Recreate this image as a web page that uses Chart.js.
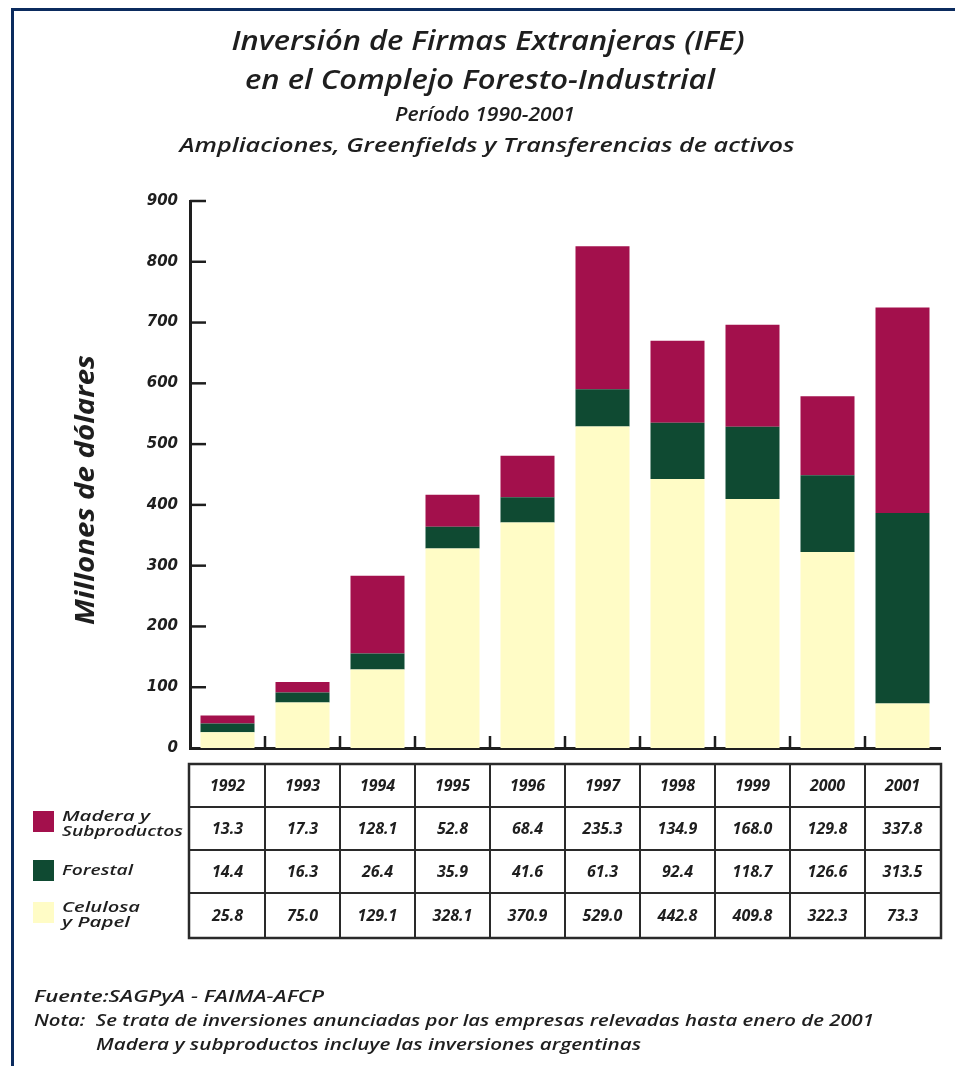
<!DOCTYPE html>
<html>
<head>
<meta charset="utf-8">
<script src="https://cdn.jsdelivr.net/npm/chart.js@4.4.1/dist/chart.umd.min.js"></script>
<style>
  html, body { margin: 0; padding: 0; background: #ffffff; }
  #wrap { position: relative; width: 955px; height: 1066px; }
  canvas { display: block; }
</style>
</head>
<body>
<div id="wrap"><canvas id="c" width="955" height="1066"></canvas></div>
<script>
// ---- Data ----
const years = ['1992','1993','1994','1995','1996','1997','1998','1999','2000','2001'];
const madera = [13.3, 17.3, 128.1, 52.8, 68.4, 235.3, 134.9, 168.0, 129.8, 337.8];
const forestal = [14.4, 16.3, 26.4, 35.9, 41.6, 61.3, 92.4, 118.7, 126.6, 313.5];
const celulosa = [25.8, 75.0, 129.1, 328.1, 370.9, 529.0, 442.8, 409.8, 322.3, 73.3];
const yTicks = [0, 100, 200, 300, 400, 500, 600, 700, 800, 900];
const seriesNames = [['Madera y', 'Subproductos'], ['Forestal'], ['Celulosa', 'y Papel']];
const titleLines = ['Inversión de Firmas Extranjeras (IFE)', 'en el Complejo Foresto-Industrial'];
const subtitleLines = ['Período 1990-2001', 'Ampliaciones, Greenfields y Transferencias de activos'];
const yTitle = 'Millones de dólares';
const notes = ['Fuente:SAGPyA - FAIMA-AFCP', 'Nota:  Se trata de inversiones anunciadas por las empresas relevadas hasta enero de 2001', 'Madera y subproductos incluye las inversiones argentinas'];

const C_MADERA = '#a3104c';
const C_FORESTAL = '#0f4a32';
const C_CELULOSA = '#fffcc6';
const INK = '#1e1e1e';
const FONT = '"Open Sans", Lato, "DejaVu Sans", sans-serif';
const TICKFONT = '"DejaVu Sans", sans-serif';

// draw text horizontally stretched to a given width
function fitText(ctx, text, x, y, width, align) {
  const w = ctx.measureText(text).width;
  const sx = width / w;
  ctx.save();
  const ox = align === 'center' ? x - width / 2 : x;
  ctx.translate(ox, y);
  ctx.scale(sx, 1);
  ctx.textAlign = 'left';
  ctx.fillText(text, 0, 0);
  ctx.restore();
}

const decor = {
  id: 'decor',
  beforeDraw(chart) {
    const ctx = chart.ctx;
    ctx.save();
    ctx.fillStyle = '#ffffff';
    ctx.fillRect(0, 0, chart.width, chart.height);
    ctx.fillStyle = '#0b2b5e';
    ctx.fillRect(11, 8, 955 - 11, 3);
    ctx.fillRect(11, 8, 3, 1066 - 8);
    ctx.restore();
  },
  afterDraw(chart) {
    const ctx = chart.ctx;
    const xs = chart.scales.x, ys = chart.scales.y;
    const area = chart.chartArea;
    ctx.save();
    ctx.fillStyle = INK;
    ctx.textBaseline = 'middle';
    // titles
    ctx.font = 'italic 600 27px ' + FONT;
    fitText(ctx, titleLines[0], 488, 42, 513, 'center');
    fitText(ctx, titleLines[1], 480, 81, 470, 'center');
    ctx.font = 'italic 600 20px ' + FONT;
    fitText(ctx, subtitleLines[0], 485, 115, 180, 'center');
    fitText(ctx, subtitleLines[1], 487, 146, 615, 'center');

    // y axis title
    ctx.save();
    ctx.translate(86, 490);
    ctx.rotate(-Math.PI / 2);
    ctx.font = 'italic bold 27px ' + FONT;
    fitText(ctx, yTitle, 0, 0, 270, 'center');
    ctx.restore();

    // y tick marks (inside)
    ctx.strokeStyle = INK;
    ctx.lineWidth = 2.5;
    yTicks.forEach(v => {
      if (v === 0) return;
      const y = ys.getPixelForValue(v);
      ctx.beginPath();
      ctx.moveTo(area.left, y);
      ctx.lineTo(area.left + 16, y);
      ctx.stroke();
    });
    // x tick marks between categories
    const catW = xs.getPixelForValue(1) - xs.getPixelForValue(0);
    for (let i = 0; i < years.length - 1; i++) {
      const x = xs.getPixelForValue(i) + catW / 2;
      ctx.beginPath();
      ctx.moveTo(x, area.bottom);
      ctx.lineTo(x, area.bottom - 12);
      ctx.stroke();
    }

    // table
    const tTop = 764, rowH = [43, 43, 43, 45];
    const tLeft = xs.getPixelForValue(0) - catW / 2 - 1;
    const tRight = xs.getPixelForValue(years.length - 1) + catW / 2 + 1;
    const rowsY = [tTop];
    rowH.forEach(h => rowsY.push(rowsY[rowsY.length - 1] + h));
    ctx.strokeStyle = '#2a2a2a';
    ctx.lineWidth = 2.5;
    ctx.strokeRect(tLeft, tTop, tRight - tLeft, rowsY[4] - tTop);
    ctx.lineWidth = 2;
    for (let r = 1; r < 4; r++) {
      ctx.beginPath(); ctx.moveTo(tLeft, rowsY[r]); ctx.lineTo(tRight, rowsY[r]); ctx.stroke();
    }
    for (let i = 0; i < years.length - 1; i++) {
      const x = xs.getPixelForValue(i) + catW / 2;
      ctx.beginPath(); ctx.moveTo(x, tTop); ctx.lineTo(x, rowsY[4]); ctx.stroke();
    }
    ctx.fillStyle = INK;
    ctx.textAlign = 'center';
    ctx.font = 'italic bold 16px ' + FONT;
    const rows = [years, madera.map(v => v.toFixed(1)), forestal.map(v => v.toFixed(1)), celulosa.map(v => v.toFixed(1))];
    rows.forEach((row, r) => {
      const cy = (rowsY[r] + rowsY[r + 1]) / 2 + 1;
      row.forEach((t, i) => ctx.fillText(t, xs.getPixelForValue(i), cy));
    });

    // legend
    const legColors = [C_MADERA, C_FORESTAL, C_CELULOSA];
    const swY = [811, 860, 902];
    const legW = [[88, 121], [71], [78, 68]];
    ctx.font = 'italic 600 15px ' + FONT;
    legColors.forEach((c, k) => {
      ctx.fillStyle = c;
      ctx.fillRect(33, swY[k], 21, 21);
      ctx.fillStyle = INK;
      const lines = seriesNames[k];
      if (lines.length === 1) {
        fitText(ctx, lines[0], 62, swY[k] + 11, legW[k][0], 'left');
      } else {
        fitText(ctx, lines[0], 62, swY[k] + 6, legW[k][0], 'left');
        fitText(ctx, lines[1], 62, swY[k] + 21, legW[k][1], 'left');
      }
    });

    // notes
    ctx.font = 'italic 600 17px ' + FONT;
    fitText(ctx, notes[0], 34, 997, 290, 'left');
    fitText(ctx, notes[1], 34, 1021, 840, 'left');
    fitText(ctx, notes[2], 96, 1045, 545, 'left');
    ctx.restore();
  }
};

new Chart(document.getElementById('c'), {
  type: 'bar',
  data: {
    labels: years,
    datasets: [
      { label: 'Celulosa y Papel', data: celulosa, backgroundColor: C_CELULOSA },
      { label: 'Forestal', data: forestal, backgroundColor: C_FORESTAL },
      { label: 'Madera y Subproductos', data: madera, backgroundColor: C_MADERA }
    ]
  },
  options: {
    responsive: false,
    animation: false,
    devicePixelRatio: 1,
    layout: { padding: { left: 140, right: 15, top: 201, bottom: 318 } },
    plugins: { legend: { display: false }, tooltip: { enabled: false }, title: { display: false } },
    datasets: { bar: { categoryPercentage: 1, barPercentage: 0.72 } },
    scales: {
      x: {
        stacked: true,
        grid: { display: false, drawTicks: false },
        border: { display: true, color: INK, width: 3 },
        ticks: { display: false },
        afterFit(s) { s.height = 0; }
      },
      y: {
        stacked: true,
        min: 0, max: 900,
        afterBuildTicks(s) { s.ticks = yTicks.map(v => ({ value: v })); },
        grid: { display: false, drawTicks: false },
        border: { display: true, color: INK, width: 3 },
        ticks: {
          color: INK, padding: 12,
          font: { family: TICKFONT, size: 15, style: 'italic', weight: 'bold' }
        },
        afterFit(s) { s.width = 50; }
      }
    }
  },
  plugins: [decor]
});
</script>
</body>
</html>
